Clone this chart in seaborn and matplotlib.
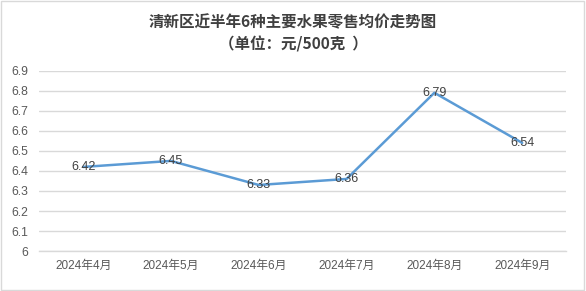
import matplotlib
matplotlib.use("Agg")
import matplotlib.pyplot as plt
import seaborn as sns
import pandas as pd
import numpy as np
from matplotlib.patches import Rectangle

months = ["2024年4月", "2024年5月", "2024年6月", "2024年7月", "2024年8月", "2024年9月"]
prices = [6.42, 6.45, 6.33, 6.36, 6.79, 6.54]
yticks = [6, 6.1, 6.2, 6.3, 6.4, 6.5, 6.6, 6.7, 6.8, 6.9]
ytick_labels = ["6", "6.1", "6.2", "6.3", "6.4", "6.5", "6.6", "6.7", "6.8", "6.9"]
title_line1 = "清新区近半年6种主要水果零售均价走势图"
title_line2 = "（单位：元/500克  ）"

sns.set_theme(style="white")
plt.rcParams['font.family'] = ['Liberation Sans', 'Noto Sans CJK SC', 'DejaVu Sans']

df = pd.DataFrame({"month": months, "price": prices})

fig = plt.figure(figsize=(5.86, 2.91), dpi=100)
ax = fig.add_axes([0.067, 0.137, 0.899, 0.62])

sns.lineplot(data=df, x="month", y="price", ax=ax, color="#5B9BD5", linewidth=1.8, sort=False)

ax.set_xlim(-0.5, len(months) - 0.5)
ax.set_ylim(6, 6.9)
ax.set_yticks(yticks)
ax.set_yticklabels(ytick_labels)
ax.yaxis.grid(True, color="#D9D9D9", linewidth=1)
ax.set_axisbelow(True)
for s in ["top", "right", "left"]:
    ax.spines[s].set_visible(False)
ax.spines["bottom"].set_color("#D9D9D9")
ax.spines["bottom"].set_linewidth(1)
ax.set_xlabel("")
ax.set_ylabel("")
ax.tick_params(axis="y", length=0, labelsize=8.8, labelcolor="#595959", pad=8)
ax.set_xticks(range(len(months)))
ax.set_xticklabels(months)
ax.tick_params(axis="x", which="major", length=0, labelsize=8.5, labelcolor="#595959", pad=6)
ax.set_xticks(np.arange(-0.5, len(months), 1.0), minor=True)
ax.tick_params(axis="x", which="minor", length=4, color="#D9D9D9", direction="out")

for i, v in enumerate(prices):
    ax.text(i, v, f"{v:.2f}", ha="center", va="center", fontsize=9, color="#404040")

fig.text(0.5, 0.922, title_line1, ha="center", va="center", fontsize=11.2,
         fontweight="bold", color="#404040", family=['Noto Sans CJK SC', 'DejaVu Sans'])
fig.text(0.5, 0.849, title_line2, ha="center", va="center", fontsize=11.2,
         fontweight="bold", color="#404040", family=['Noto Sans CJK SC', 'DejaVu Sans'])

fig.patches.append(Rectangle((0.002, 0.003), 0.994, 0.992, transform=fig.transFigure,
                             fill=False, edgecolor="#D9D9D9", linewidth=1))

fig.savefig("out.png", dpi=100)
